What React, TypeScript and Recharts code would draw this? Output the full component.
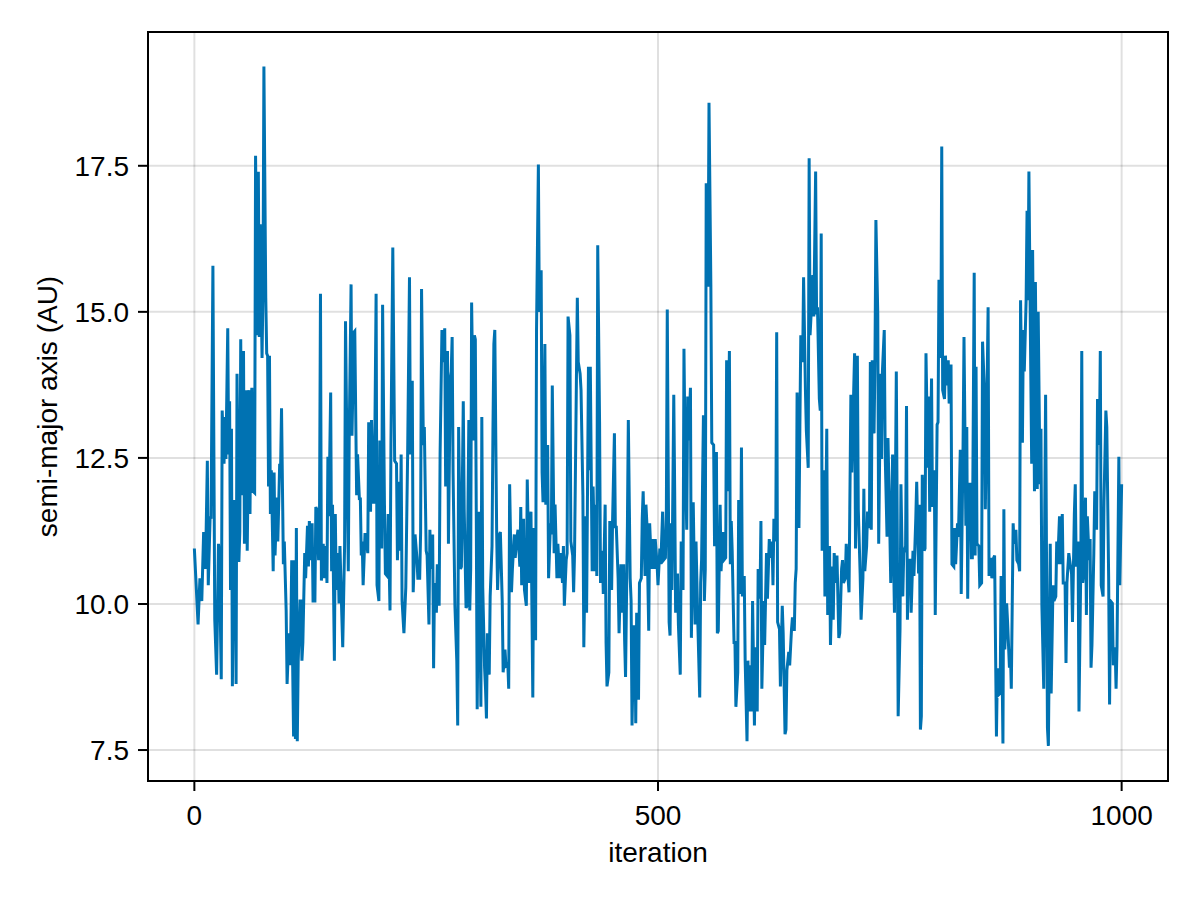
import React from 'react';
import { LineChart, Line, XAxis, YAxis, CartesianGrid, ReferenceArea } from 'recharts';

// MCMC trace of the semi-major axis (AU), [iteration, value]
const samples000to163: [number, number][] = [
  [0,10.95],[4,9.65],[6,10.44],[8,10.05],[10,11.23],[12,10.6],[14,12.45],[15,10.32],[17,11.5],[18,11.46],
  [20,15.79],[22,9.73],[23,9.26],[24,8.79],[26,11.03],[27,10.83],[29,8.71],[30,13.31],[32,12.4],[33,13.2],
  [34,12.48],[36,14.72],[37,12.56],[38,13.47],[39,10.24],[40,13.0],[41,8.59],[43,11.78],[44,11.62],[45,8.63],
  [46,13.94],[48,10.72],[49,11.23],[50,14.53],[51,11.86],[53,14.33],[54,11.03],[56,13.66],[57,10.91],[59,13.66],
  [60,11.54],[61,13.43],[62,13.7],[63,11.93],[65,11.9],[66,17.67],[68,14.6],[69,17.4],[70,14.57],[71,16.5],
  [73,14.21],[74,15.4],[75,19.2],[77,15.24],[78,14.29],[79,14.25],[80,12.01],[81,14.25],[82,11.54],[83,12.29],
  [85,10.56],[86,12.25],[87,10.83],[89,11.82],[90,11.07],[92,12.4],[93,12.33],[94,13.35],[96,10.68],[97,11.07],
  [99,9.89],[100,8.63],[102,9.5],[103,8.95],[104,9.5],[105,10.75],[106,8.95],[107,7.73],[108,10.75],[109,7.69],
  [110,11.3],[111,7.65],[112,9.03],[114,10.05],[115,10.05],[116,9.03],[117,9.34],[119,10.87],[120,10.44],[122,11.34],
  [123,10.64],[124,11.42],[126,10.75],[127,11.38],[128,10.05],[130,10.05],[131,11.66],[132,11.62],[134,10.75],[135,11.62],
  [136,15.31],[137,10.4],[139,11.03],[140,10.44],[142,10.99],[143,10.36],[144,12.52],[145,11.5],[147,13.62],[148,10.56],
  [149,11.7],[151,9.03],[152,11.54],[153,10.24],[155,10.87],[156,10.01],[157,10.99],[159,9.81],[160,9.26],[162,10.99],
  [163,14.84],
];

const samples164to330: [number, number][] = [
  [166,10.56],[167,12.88],[169,15.47],[170,12.88],[172,14.65],[173,14.67],[175,11.86],[176,12.56],[178,11.78],[179,11.82],
  [180,10.83],[181,11.07],[182,10.32],[184,11.19],[185,11.19],[187,10.87],[188,13.11],[190,11.58],[191,13.15],[193,11.74],
  [194,11.74],[196,15.31],[197,10.32],[199,10.05],[200,12.8],[202,10.95],[203,15.12],[205,11.7],[206,10.52],[208,10.48],
  [209,11.54],[211,9.89],[212,12.76],[214,16.1],[216,12.45],[218,12.4],[219,10.75],[221,12.09],[222,10.91],[223,12.56],
  [224,10.05],[226,9.5],[228,10.28],[230,12.56],[232,15.59],[233,12.56],[235,13.82],[236,10.2],[238,11.19],[240,10.79],
  [241,10.44],[243,10.44],[244,11.23],[245,15.39],[247,12.72],[248,13.03],[250,10.91],[251,10.83],[253,9.65],[254,11.27],
  [255,10.6],[257,11.19],[258,8.9],[259,10.36],[261,9.85],[262,10.68],[264,9.97],[265,12.56],[267,14.69],[268,14.14],
  [270,14.72],[271,12.01],[273,14.33],[274,11.03],[276,13.86],[277,13.98],[278,14.57],[279,12.25],[281,9.97],[283,9.03],
  [284,7.92],[285,13.03],[287,10.6],[288,10.64],[290,13.47],[291,11.62],[293,9.93],[294,9.97],[296,13.15],[297,9.89],
  [298,10.6],[299,15.16],[301,12.8],[302,14.6],[303,14.53],[304,11.62],[305,8.2],[307,11.58],[309,8.24],[310,13.2],
  [311,10.28],[313,8.9],[314,8.55],[315,8.04],[316,9.5],[318,8.79],[319,10.13],[321,10.99],[322,12.96],[323,14.45],
  [324,14.69],[326,11.23],[327,10.24],[329,11.19],[330,11.23],
];

const samples331to497: [number, number][] = [
  [332,10.05],[333,8.83],[335,9.22],[336,8.95],[338,8.99],[339,8.55],[340,12.05],[342,10.2],[343,10.6],[345,11.19],
  [346,10.79],[348,11.15],[349,11.27],[351,10.64],[352,11.66],[353,10.32],[355,11.46],[356,10.24],[358,9.97],[359,12.13],
  [361,10.36],[362,11.23],[363,11.58],[365,8.4],[366,11.3],[368,9.38],[369,14.69],[371,17.52],[372,15.0],[374,15.71],
  [375,12.25],[376,11.74],[378,14.45],[379,11.7],[381,12.72],[382,10.44],[384,11.38],[385,11.19],[386,13.74],[388,10.87],
  [389,11.7],[391,10.44],[392,11.03],[394,10.44],[395,10.87],[397,10.36],[398,10.99],[399,9.97],[401,10.75],[402,10.87],
  [403,14.92],[405,14.6],[406,11.07],[408,10.83],[409,10.2],[410,10.87],[412,13.82],[413,15.24],[414,14.14],[416,13.94],
  [417,13.66],[419,11.86],[420,9.26],[422,11.5],[423,9.85],[425,14.06],[426,12.29],[427,14.06],[429,10.56],[430,12.01],
  [432,10.56],[433,11.7],[434,10.48],[435,16.14],[437,13.11],[438,10.36],[440,10.91],[441,10.17],[443,11.7],[444,9.34],
  [445,8.59],[447,8.83],[448,11.42],[450,10.24],[451,11.42],[453,12.92],[454,11.3],[455,11.34],[457,10.44],[458,9.5],
  [460,10.68],[461,9.85],[463,10.68],[464,9.38],[465,8.75],[467,11.34],[468,13.15],[470,10.44],[471,10.05],[472,7.92],
  [474,9.61],[475,9.61],[476,7.96],[477,9.85],[479,8.36],[480,10.36],[482,10.44],[483,11.46],[484,11.93],[486,10.48],
  [487,11.7],[488,11.38],[490,9.54],[491,11.38],[493,10.6],[494,11.11],[496,10.6],[497,11.11],
];

const samples498to664: [number, number][] = [
  [499,10.68],[500,10.32],[502,10.95],[503,10.68],[505,11.58],[506,10.75],[508,10.79],[509,11.54],[510,15.04],[512,9.69],
  [513,9.46],[514,11.38],[515,10.24],[517,13.58],[518,11.93],[519,9.85],[521,10.52],[522,9.65],[524,8.79],[525,11.07],
  [527,10.24],[528,14.37],[529,12.88],[531,11.27],[532,13.55],[533,12.8],[535,13.7],[536,9.42],[537,10.56],[538,11.74],
  [540,9.65],[541,11.07],[543,9.65],[545,8.4],[546,10.36],[547,10.75],[549,13.23],[550,10.05],[551,10.6],[552,17.2],
  [554,15.43],[555,18.58],[557,15.47],[558,12.76],[560,12.72],[561,10.99],[563,12.6],[564,9.5],[565,9.54],[567,11.7],
  [568,10.56],[570,11.23],[571,10.75],[573,10.79],[574,14.17],[575,11.93],[577,14.33],[578,10.68],[579,11.42],[580,10.91],
  [582,9.34],[583,9.34],[584,8.24],[586,8.83],[587,11.78],[589,10.17],[590,12.68],[591,10.13],[593,10.48],[594,9.03],
  [596,7.65],[597,9.03],[598,8.16],[600,8.95],[601,8.16],[602,10.05],[604,7.92],[605,9.26],[607,8.16],[608,10.6],
  [610,10.09],[611,11.42],[612,8.55],[614,10.05],[615,9.3],[617,10.87],[618,10.09],[620,11.11],[621,10.79],[623,11.07],
  [624,10.32],[625,11.46],[627,11.07],[628,14.65],[629,9.69],[631,9.57],[632,8.59],[634,9.97],[635,9.5],[637,7.77],
  [638,7.85],[639,8.87],[641,9.18],[642,8.95],[644,9.57],[645,9.77],[647,9.54],[648,10.36],[649,10.6],[650,13.62],
  [652,11.3],[653,13.03],[654,14.6],[656,14.14],[657,15.59],[659,13.66],[660,12.96],[662,12.33],[663,17.63],[664,14.6],
];

const samples665to832: [number, number][] = [
  [665,14.92],[667,15.63],[668,14.92],[670,17.4],[671,14.96],[672,15.08],[674,13.51],[675,13.31],[676,16.34],[677,10.91],
  [679,12.29],[680,10.13],[682,13.0],[683,9.81],[685,10.99],[686,9.3],[688,10.64],[689,9.73],[690,10.87],[692,10.36],
  [693,10.83],[695,9.42],[696,9.5],[698,10.6],[699,10.75],[700,10.36],[702,10.44],[703,11.03],[705,10.44],[706,10.2],
  [708,13.58],[709,12.25],[711,13.62],[712,14.29],[713,10.95],[715,14.25],[716,11.62],[718,10.52],[719,9.73],[721,10.44],
  [722,11.97],[723,10.56],[725,10.99],[726,11.58],[728,11.3],[729,14.14],[730,11.27],[731,14.17],[733,12.92],[734,14.21],
  [735,16.57],[737,14.96],[738,11.03],[740,13.94],[741,12.48],[742,13.98],[744,14.69],[745,12.56],[747,11.15],[748,12.84],
  [750,11.27],[751,10.36],[753,12.56],[754,10.83],[755,9.85],[757,13.98],[758,11.3],[759,8.08],[761,9.57],[762,12.05],
  [764,10.13],[765,10.87],[767,10.99],[768,13.39],[769,9.73],[770,10.75],[772,10.75],[773,9.85],[775,10.91],[776,10.48],
  [778,11.46],[779,12.09],[781,10.52],[782,11.7],[783,7.85],[784,8.08],[785,12.21],[787,10.91],[788,10.95],[789,14.29],
  [791,12.33],[792,13.55],[793,11.58],[795,13.86],[796,11.66],[798,12.29],[799,9.81],[801,13.07],[802,13.11],[803,15.55],
  [805,14.21],[806,17.83],[807,13.66],[809,13.51],[810,14.25],[811,13.74],[813,14.17],[814,13.43],[816,14.1],[817,10.68],
  [819,10.64],[820,11.3],[821,10.68],[823,11.38],[824,11.15],[826,12.64],[827,10.17],[829,12.72],[830,14.57],[832,11.34],
];

const samples833to1000: [number, number][] = [
  [833,13.03],[834,10.09],[835,12.05],[837,12.05],[838,10.79],[839,10.79],[841,15.67],[842,10.83],[843,14.06],[844,11.03],
  [846,10.99],[847,10.32],[849,10.36],[850,14.49],[852,13.66],[853,11.62],[855,13.82],[856,15.08],[857,10.48],[859,10.79],
  [860,10.44],[862,10.79],[863,10.83],[865,7.73],[866,8.9],[867,8.44],[869,8.47],[870,10.48],[872,7.61],[873,11.62],
  [874,9.22],[876,10.01],[877,9.69],[879,8.91],[880,9.22],[881,8.55],[883,11.38],[884,11.03],[886,11.27],[887,10.75],
  [889,10.68],[890,10.56],[891,15.2],[893,12.76],[894,14.69],[895,13.98],[897,15.2],[898,16.73],[899,15.2],[900,17.4],
  [902,13.98],[903,12.4],[904,16.06],[906,11.93],[907,15.51],[909,11.97],[910,15.0],[912,12.05],[913,13.0],[914,9.97],
  [916,8.55],[917,11.38],[918,13.58],[920,7.88],[921,7.57],[923,11.03],[924,8.47],[926,10.32],[927,10.05],[929,10.13],
  [930,11.07],[931,10.68],[933,11.5],[934,10.68],[936,11.54],[937,10.36],[939,10.36],[940,8.99],[941,10.36],[943,10.87],
  [944,10.75],[946,10.52],[947,9.69],[949,11.54],[950,12.05],[951,10.64],[953,11.07],[954,8.16],[956,10.68],[957,14.33],
  [958,10.36],[959,10.52],[961,11.82],[962,9.81],[963,11.5],[965,10.75],[966,11.11],[967,8.91],[968,9.3],[970,10.87],
  [971,11.93],[973,11.27],[974,13.51],[976,12.72],[977,14.33],[978,10.32],[980,10.13],[981,11.78],[983,13.31],[984,13.03],
  [986,10.44],[987,8.28],[988,10.05],[990,10.01],[991,8.95],[993,9.26],[994,8.55],[995,9.26],[997,12.52],[998,10.32],
  [1000,12.05],
];

const xTicks = [0, 500, 1000];
const yTicks = [7.5, 10, 12.5, 15, 17.5];
const xDomain: [number, number] = [-50, 1050];
const yDomain: [number, number] = [6.97, 19.79];
const xTitle = 'iteration';
const yTitle = 'semi-major axis (AU)';

const chainData = [
  ...samples000to163,
  ...samples164to330,
  ...samples331to497,
  ...samples498to664,
  ...samples665to832,
  ...samples833to1000,
].map(([iteration, axis]) => ({ iteration, axis }));

const FONT = "'Liberation Sans', Arial, Helvetica, sans-serif";
const tickStyle = { fill: '#000', fontSize: 28, fontFamily: FONT };

export default function App() {
  return (
    <div style={{ position: 'absolute', left: 0, top: 0, width: 1200, height: 900, background: '#fff' }}>
      <LineChart
        width={1200}
        height={900}
        data={chainData}
        margin={{ top: 32, right: 32, bottom: 0, left: 0 }}
      >
        <CartesianGrid stroke="rgba(0,0,0,0.12)" strokeWidth={2} />
        <XAxis
          dataKey="iteration"
          type="number"
          domain={xDomain}
          ticks={xTicks}
          interval={0}
          allowDataOverflow
          height={119}
          tickSize={10}
          tickMargin={14}
          tick={tickStyle}
          tickLine={{ stroke: '#000', strokeWidth: 2 }}
          axisLine={{ stroke: '#000', strokeWidth: 2 }}
        />
        <YAxis
          type="number"
          domain={yDomain}
          ticks={yTicks}
          interval={0}
          allowDataOverflow
          width={148}
          tickSize={10}
          tickMargin={9}
          tick={tickStyle}
          tickFormatter={(v: number) => v.toFixed(1)}
          tickLine={{ stroke: '#000', strokeWidth: 2 }}
          axisLine={{ stroke: '#000', strokeWidth: 2 }}
        />
        <Line
          dataKey="axis"
          type="linear"
          stroke="#0072b2"
          strokeWidth={3}
          dot={false}
          activeDot={false}
          isAnimationActive={false}
        />
        <ReferenceArea
          x1={xDomain[0]}
          x2={xDomain[1]}
          y1={yDomain[0]}
          y2={yDomain[1]}
          fill="none"
          fillOpacity={0}
          stroke="#000"
          strokeWidth={2}
          strokeOpacity={1}
          ifOverflow="visible"
        />
      </LineChart>
      <svg
        width={1200}
        height={900}
        style={{ position: 'absolute', left: 0, top: 0, pointerEvents: 'none' }}
      >
        <text x={658} y={862} textAnchor="middle" fontSize={28} fontFamily={FONT} fill="#000">
          {xTitle}
        </text>
        <text
          x={57}
          y={406.5}
          textAnchor="middle"
          fontSize={28}
          fontFamily={FONT}
          fill="#000"
          transform="rotate(-90 57 406.5)"
        >
          {yTitle}
        </text>
      </svg>
    </div>
  );
}
